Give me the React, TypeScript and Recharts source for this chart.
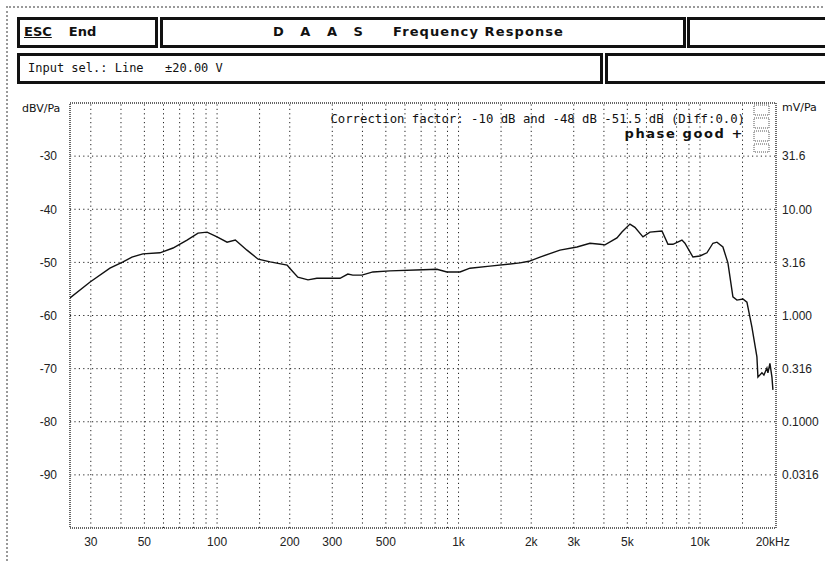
import { LineChart, Line, XAxis, YAxis, ReferenceLine } from "recharts";

const freqHz = [
  24.6, 29.8, 36, 40.8, 44.4, 49.3, 58, 65.7, 75.1, 83.4,
  90.9, 100, 110, 119, 133, 148, 166, 195, 200, 216,
  238, 259, 323, 348, 365, 398, 442, 520, 712, 814,
  895, 1014, 1115, 1349, 1797, 1957, 2174, 2630, 3094, 3502,
  3852, 4040, 4529, 4751, 5127, 5377, 5804, 6205, 6957, 7367,
  7725, 8418, 8662, 9349, 9993, 10683, 11311, 11751, 12441, 13049,
  13686, 14219, 15055, 15642, 16406, 17206, 17374, 18046, 18394, 18927,
  19110, 19479, 19856, 20045,
];
const levelDb = [
  -56.7, -53.7, -51.1, -49.9, -49.0, -48.4, -48.2, -47.3, -45.8, -44.5,
  -44.3, -45.2, -46.2, -45.8, -47.7, -49.4, -49.9, -50.5, -51.1, -52.8,
  -53.3, -53.0, -53.0, -52.2, -52.4, -52.4, -51.8, -51.6, -51.4, -51.3,
  -51.8, -51.8, -51.1, -50.7, -50.1, -49.8, -49.0, -47.7, -47.1, -46.4,
  -46.6, -46.7, -45.4, -44.3, -42.8, -43.4, -45.2, -44.3, -44.1, -46.6,
  -46.6, -45.8, -46.4, -49.0, -48.8, -48.2, -46.4, -46.2, -47.1, -50.1,
  -56.5, -57.1, -56.9, -57.5, -62.2, -67.8, -71.6, -70.8, -71.2, -69.9,
  -70.8, -69.0, -71.6, -74.0,
];

const xTicks = [30, 50, 100, 200, 300, 500, 1000, 2000, 3000, 5000, 10000, 20000];
const xTickLabels = ["30", "50", "100", "200", "300", "500", "1k", "2k", "3k", "5k", "10k", "20kHz"];
const xGrid = [
  30, 40, 50, 60, 70, 80, 90, 100, 150, 200, 300, 400, 500, 600, 700, 800, 900,
  1000, 1500, 2000, 3000, 4000, 5000, 6000, 7000, 8000, 9000, 10000, 15000,
];
const yTicks = [-30, -40, -50, -60, -70, -80, -90];
const mvLabels = ["31.6", "10.00", "3.16", "1.000", "0.316", "0.1000", "0.0316"];

const data = freqHz.map((f, i) => ({ f, db: levelDb[i] }));

const mono = "'DejaVu Sans Mono', monospace";
const sans = "'DejaVu Sans', sans-serif";
const tickFont = "'Liberation Sans', Arial, sans-serif";
const box = { position: "absolute" as const, border: "3px solid #111", boxSizing: "border-box" as const };

export default function App() {
  return (
    <div
      style={{
        position: "absolute",
        left: 0,
        top: 0,
        width: 825,
        height: 563,
        overflow: "hidden",
        background: "#fff",
        color: "#111",
      }}
    >
      {/* outer frame */}
      <div
        style={{
          position: "absolute",
          left: 6,
          top: 6,
          width: 840,
          height: 555,
          border: "2px dotted #999",
        }}
      />

      {/* header boxes */}
      <div style={{ ...box, left: 17, top: 17, width: 141, height: 31 }} />
      <div style={{ ...box, left: 160, top: 17, width: 526, height: 31 }} />
      <div style={{ ...box, left: 687, top: 17, width: 160, height: 31 }} />
      <div style={{ ...box, left: 17, top: 53, width: 586, height: 31 }} />
      <div style={{ ...box, left: 605, top: 53, width: 240, height: 31 }} />

      <div style={{ position: "absolute", left: 24, top: 24, fontFamily: sans, fontWeight: "bold", fontSize: 13 }}>
        <span style={{ textDecoration: "underline" }}>ESC</span>
        <span style={{ marginLeft: 17 }}>End</span>
      </div>
      <div
        style={{
          position: "absolute",
          left: 273,
          top: 24,
          fontFamily: sans,
          fontWeight: "bold",
          fontSize: 13,
          whiteSpace: "pre",
          letterSpacing: 6,
        }}
      >
        D A A S
      </div>
      <div
        style={{
          position: "absolute",
          left: 393,
          top: 24,
          fontFamily: sans,
          fontWeight: "bold",
          fontSize: 13,
          whiteSpace: "pre",
          letterSpacing: 1.1,
        }}
      >
        Frequency Response
      </div>
      <div style={{ position: "absolute", left: 28, top: 61, fontFamily: mono, fontSize: 12, whiteSpace: "pre" }}>
        Input sel.: Line
      </div>
      <div style={{ position: "absolute", left: 165, top: 61, fontFamily: mono, fontSize: 12, whiteSpace: "pre" }}>
        ±20.00 V
      </div>

      <div style={{ position: "absolute", left: 22, top: 102, fontFamily: sans, fontSize: 11 }}>dBV/Pa</div>
      <div style={{ position: "absolute", left: 782, top: 101, fontFamily: sans, fontSize: 11 }}>mV/Pa</div>

      <div style={{ position: "absolute", left: 0, top: 0 }}>
        <LineChart width={825} height={563} data={data} margin={{ top: 103, right: 4, bottom: 5, left: 20 }}>
          <XAxis
            dataKey="f"
            type="number"
            scale="log"
            domain={[24.6, 20640]}
            allowDataOverflow
            ticks={xTicks}
            tickFormatter={(v: number) => xTickLabels[xTicks.indexOf(v)] ?? String(v)}
            axisLine={false}
            tickLine={false}
            tickSize={0}
            tickMargin={9}
            height={30}
            tick={{ fill: "#222", fontSize: 12, fontFamily: tickFont }}
          />
          <YAxis
            yAxisId="left"
            type="number"
            domain={[-100, -20]}
            ticks={yTicks}
            axisLine={false}
            tickLine={false}
            tickSize={0}
            tickMargin={13}
            width={50}
            tick={{ fill: "#222", fontSize: 12, fontFamily: tickFont }}
          />
          <YAxis
            yAxisId="right"
            orientation="right"
            type="number"
            domain={[-100, -20]}
            ticks={yTicks}
            interval={0}
            tickFormatter={(v: number) => mvLabels[yTicks.indexOf(v)] ?? ""}
            axisLine={false}
            tickLine={false}
            tickSize={0}
            tickMargin={6}
            width={45}
            tick={{ fill: "#222", fontSize: 12, fontFamily: tickFont }}
          />
          {yTicks.map((v) => (
            <ReferenceLine key={`h${v}`} yAxisId="left" y={v} stroke="#222" strokeDasharray="1.2 3.2" />
          ))}
          {xGrid.map((f) => (
            <ReferenceLine key={`v${f}`} yAxisId="left" x={f} stroke="#222" strokeDasharray="1.2 3.2" />
          ))}
          {/* invisible copy so the right-hand mV/Pa axis gets drawn */}
          <Line
            yAxisId="right"
            dataKey="db"
            stroke="#111"
            strokeOpacity={0}
            dot={false}
            isAnimationActive={false}
          />
          <Line
            yAxisId="left"
            dataKey="db"
            type="linear"
            stroke="#111"
            strokeWidth={1.4}
            dot={false}
            isAnimationActive={false}
          />
        </LineChart>
      </div>

      {/* plot frame and annotations */}
      <svg width={825} height={563} style={{ position: "absolute", left: 0, top: 0, pointerEvents: "none" }}>
        <rect x={70} y={103} width={706} height={425} fill="none" stroke="#666" strokeWidth={2} strokeDasharray="1 1" />
        <g fill="none" stroke="#555" strokeWidth={1} strokeDasharray="1 1">
          <rect x={754} y={105} width={15} height={10} />
          <rect x={754} y={118} width={15} height={10} />
          <rect x={754} y={131} width={15} height={10} />
          <rect x={754} y={144} width={15} height={8} />
        </g>
        <text x={745} y={123} textAnchor="end" fontFamily={mono} fontSize={12.3} fill="#111">
          Correction factor: -10 dB and -48 dB -51.5 dB (Diff:0.0)
        </text>
        <text
          x={744}
          y={138}
          textAnchor="end"
          fontFamily={sans}
          fontSize={13}
          fontWeight="bold"
          letterSpacing={1.6}
          fill="#111"
        >
          phase good +
        </text>
      </svg>
    </div>
  );
}
